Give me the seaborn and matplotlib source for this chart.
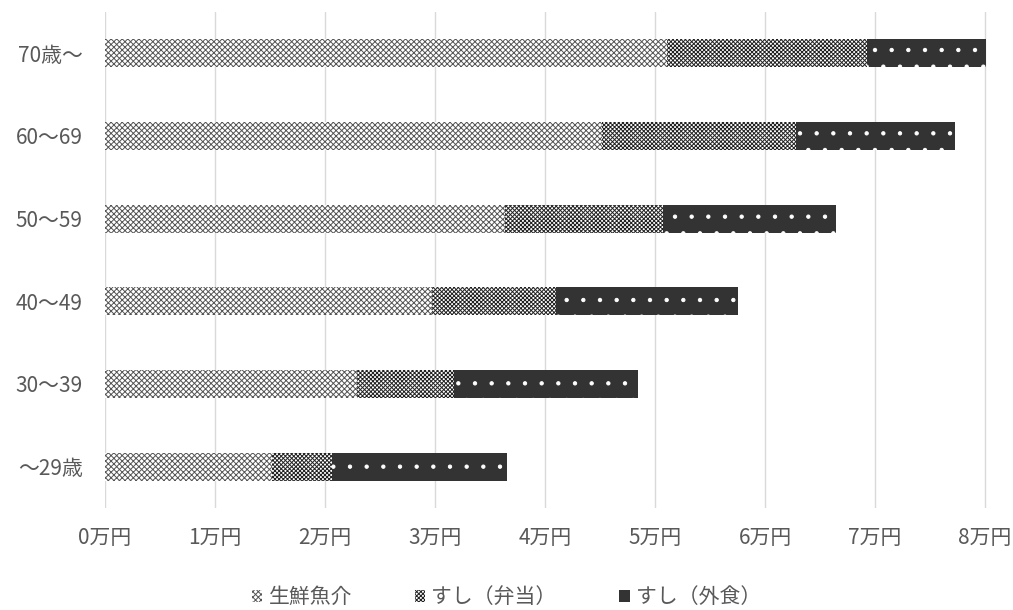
import matplotlib
matplotlib.use("Agg")
import matplotlib.pyplot as plt
import seaborn as sns
import pandas as pd
import numpy as np
from matplotlib.patches import Patch

categories = ["70歳〜", "60〜69", "50〜59", "40〜49", "30〜39", "〜29歳"]
fresh_fish = [51060, 45190, 36380, 29750, 22890, 15140]
sushi_bento = [18190, 17600, 14380, 11210, 8800, 5520]
sushi_dining = [10850, 14500, 15670, 16550, 16730, 15900]
series_names = ["生鮮魚介", "すし（弁当）", "すし（外食）"]
tick_values = [0, 10000, 20000, 30000, 40000, 50000, 60000, 70000, 80000]
tick_labels = ["0万円", "1万円", "2万円", "3万円", "4万円", "5万円", "6万円", "7万円", "8万円"]

sns.set_theme(style="white")
plt.rcParams['font.family'] = ['Noto Sans CJK JP', 'DejaVu Sans']
plt.rcParams['hatch.linewidth'] = 0.7

df = pd.DataFrame({
    "cat": categories,
    "fresh": fresh_fish,
    "bento": sushi_bento,
    "dining": sushi_dining,
})
df["c1"] = df["fresh"]
df["c2"] = df["fresh"] + df["bento"]
df["c3"] = df["c2"] + df["dining"]

fig = plt.figure(figsize=(10.13, 6.10), dpi=100)
ax = fig.add_axes([105/1013, 1 - 508/610, (990.5-105)/1013, (508-12)/610])

styles = [
    ("c3", "#333333", "white", "."),
    ("c2", "white", "#222222", "xxxxxxxx"),
    ("c1", "white", "#555555", "xxxxxx"),
]
n_before = 0
for col, fc, hc, h in styles:
    sns.barplot(data=df, x=col, y="cat", order=categories, orient="h",
                color=fc, width=0.34, ax=ax, saturation=1, errorbar=None)
    for p in ax.patches[n_before:]:
        p.set_facecolor(fc)
        p.set_edgecolor(hc)
        p.set_hatch(h)
        p.set_linewidth(0)
    n_before = len(ax.patches)

ax.set_xlim(0, 80500)
ax.set_ylim(5.5, -0.5)
ax.set_xticks(tick_values)
ax.set_xticklabels(tick_labels)
ax.set_xlabel("")
ax.set_ylabel("")
ax.tick_params(axis="both", colors="#595959", labelsize=15, length=0)
ax.tick_params(axis="x", pad=14)
ax.tick_params(axis="y", pad=16)
ax.xaxis.grid(True, color="#d9d9d9", linewidth=1)
ax.set_axisbelow(True)
for s in ax.spines.values():
    s.set_visible(False)

handles = [
    Patch(facecolor="white", edgecolor="#555555", hatch="xxxxxx", linewidth=0),
    Patch(facecolor="white", edgecolor="#222222", hatch="xxxxxxxx", linewidth=0),
    Patch(facecolor="#333333", edgecolor="white", hatch=".", linewidth=0),
]
leg = fig.legend(handles, series_names, loc="center", bbox_to_anchor=(0.5, 1 - 597/610),
                 ncol=3, frameon=False, fontsize=15, handlelength=0.5, handleheight=0.5,
                 handletextpad=0.3, columnspacing=3.0)
for t in leg.get_texts():
    t.set_color("#595959")

fig.savefig("out.png", dpi=100)
